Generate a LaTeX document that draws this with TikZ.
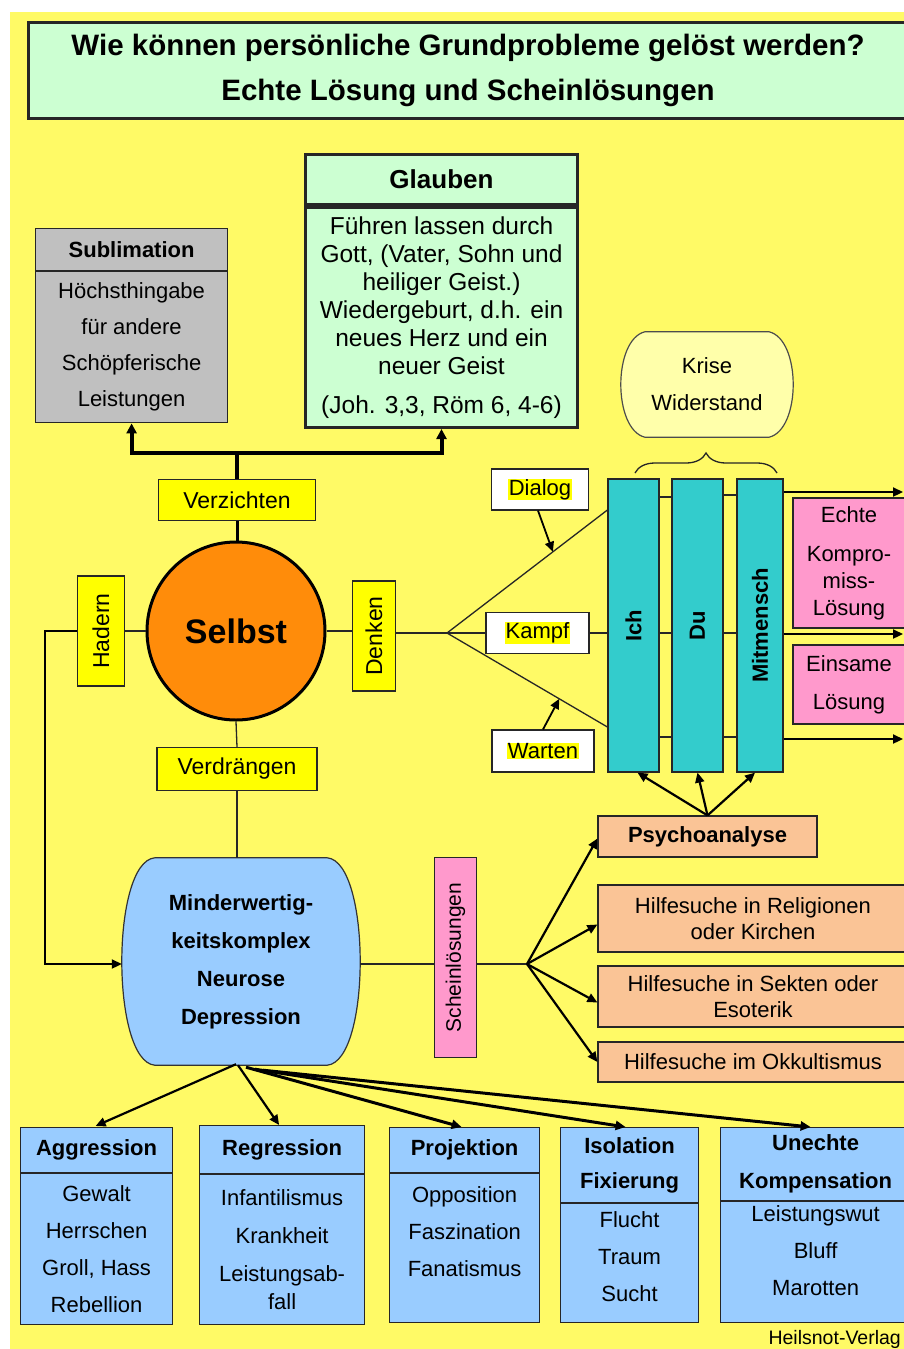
\documentclass[tikz,border=0pt]{standalone}
\usepackage{fontspec}
\setmainfont{Liberation Sans}
\usetikzlibrary{arrows.meta,decorations.pathreplacing,calc,backgrounds}
\definecolor{bgyellow}{RGB}{255,250,102}
\definecolor{titlegreen}{RGB}{204,255,210}
\definecolor{subgray}{RGB}{192,192,192}
\definecolor{selbstorange}{RGB}{255,140,10}
\definecolor{labelyellow}{RGB}{255,255,0}
\definecolor{barteal}{RGB}{51,204,204}
\definecolor{pinkbox}{RGB}{255,153,204}
\definecolor{peach}{RGB}{250,196,150}
\definecolor{lightblue}{RGB}{153,204,255}
\definecolor{krisefill}{RGB}{255,255,170}
\newcommand{\myfs}[2]{\fontsize{#1}{#2}\selectfont}
\newcommand{\hlt}[1]{{\setlength{\fboxsep}{0.5pt}\colorbox{labelyellow}{#1}}}
\begin{document}
\begin{tikzpicture}[x=1pt,y=-1pt,
  box/.style={draw=black!85, line width=1.2pt, inner sep=0pt, align=center, text=black},
  ylbl/.style={box, fill=labelyellow, font=\myfs{23}{27}},
  wlbl/.style={box, fill=white, font=\myfs{22}{26}},
  barn/.style={box, fill=barteal, font=\bfseries\myfs{22}{26}},
  pinkn/.style={box, fill=pinkbox, font=\myfs{22}{27}},
  peachn/.style={box, fill=peach, font=\myfs{22}{26}},
  blueh/.style={box, fill=lightblue, font=\bfseries\myfs{22}{35}},
  blueb/.style={box, fill=lightblue, font=\myfs{22}{37}},
  conn/.style={draw=black!85, line width=1.3pt},
  arrw/.style={draw=black, line width=2.2pt, -{Triangle[length=10pt,width=9pt]}}
]
\useasboundingbox (0,0) rectangle (904,1349);

% title
\node[box, fill=titlegreen, line width=3pt, minimum width=880pt, minimum height=96pt,
      font=\bfseries\myfs{29.5}{45}] (title) at (468,70)
  {Wie können persönliche Grundprobleme gelöst werden?\\Echte Lösung und Scheinlösungen};

% Glauben
\node[box, fill=titlegreen, line width=3pt, minimum width=272pt, minimum height=50pt,
      font=\bfseries\myfs{26}{30}, anchor=north west] (glh) at (304,153) {Glauben};
\node[box, fill=titlegreen, line width=3pt, minimum width=272pt, minimum height=220pt,
      font=\myfs{24.5}{28}, anchor=north] (glb) at (glh.south)
  {Führen lassen durch\\Gott, (Vater, Sohn und\\heiliger Geist.)\\Wiedergeburt, d.h. ein\\neues Herz und ein\\neuer Geist\\[11pt](Joh. 3,3, Röm 6, 4-6)};

% Sublimation
\node[box, fill=subgray, minimum width=192pt, minimum height=42pt,
      font=\bfseries\myfs{22}{26}, anchor=north west] (subh) at (35,228) {Sublimation};
\node[box, fill=subgray, minimum width=192pt, minimum height=151pt,
      font=\myfs{22}{36}, anchor=north] (subb) at (subh.south)
  {Höchsthingabe\\für andere\\Schöpferische\\Leistungen};

% Selbst and labels
\node[ylbl, minimum width=157pt, minimum height=41pt] (verz) at (237,500) {Verzichten};
\node[circle, draw=black, line width=3pt, fill=selbstorange, minimum size=178pt,
      font=\bfseries\myfs{34}{40}] (selbst) at (236,631) {Selbst};
\node[ylbl, minimum width=47pt, minimum height=110pt] (hadern) at (101,631) {\rotatebox{90}{Hadern}};
\node[ylbl, minimum width=43pt, minimum height=110pt] (denken) at (374,636) {\rotatebox{90}{Denken}};
\node[ylbl, minimum width=160pt, minimum height=43pt] (verd) at (237,769) {Verdrängen};

% tree to Sublimation / Glauben
\coordinate (tj) at (238,453);
\draw[line width=4pt] (verz.north) -- (verz.north |- tj);
\draw[line width=4pt, {Triangle[length=10pt,width=10pt]}-{Triangle[length=10pt,width=10pt]}]
  (subb.south) |- (verz.north |- tj) -| (glb.south);
\draw[line width=3pt] (verz.south) -- (verz.south |- selbst.north);
\draw[conn] (selbst.west) -- (hadern.east);
\draw[conn] (selbst.east) -- (selbst.east -| denken.west);

% Krise
\node[minimum width=172pt, minimum height=105pt, align=center, font=\myfs{22}{37}] (krise) at (707,384.5) {Krise\\Widerstand};
\begin{scope}[on background layer]
\fill[white] (0,0) rectangle (904,1349);
\fill[bgyellow] (10,12) rectangle (904,1349);
\draw[fill=krisefill, draw=black!70, line width=1.2pt]
  ($(krise.north west)+(24,0)$) -- ($(krise.north east)+(-24,0)$)
  .. controls ($(krise.north east)+(8,8)$) and ($(krise.south east)+(8,-8)$) .. ($(krise.south east)+(-24,0)$)
  -- ($(krise.south west)+(24,0)$)
  .. controls ($(krise.south west)+(-8,-8)$) and ($(krise.north west)+(-8,8)$) .. cycle;
\end{scope}
\draw[conn, decorate, decoration={brace, amplitude=20pt}] (635,473) -- (777,473);

% bars
\node[barn, minimum width=51pt, minimum height=293pt] (ich) at (633.5,625.5) {\rotatebox{90}{Ich}};
\node[barn, minimum width=51pt, minimum height=293pt] (du) at (697.5,625.5) {\rotatebox{90}{Du}};
\node[barn, minimum width=46pt, minimum height=293pt] (mit) at (760,625.5) {\rotatebox{90}{Mitmensch}};

% fan
\coordinate (apex) at (447,633);
\coordinate (upf) at (ich.west |- 0,510);
\coordinate (lowf) at (ich.west |- 0,727);
\node[wlbl, minimum width=97pt, minimum height=41pt] (dialog) at (540,489.5) {\hlt{Dialog}};
\node[wlbl, minimum width=103pt, minimum height=41pt] (kampf) at (537.5,633) {\hlt{Kampf}};
\node[wlbl, minimum width=102pt, minimum height=42pt] (warten) at (543,751) {\hlt{Warten}};
\draw[conn] (denken.east |- apex) -- (apex);
\draw[conn] (apex) -- (upf);
\draw[conn] (apex) -- (lowf);
\draw[conn] (apex) -- (kampf.west);
\draw[conn] (kampf.east) -- (ich.west |- apex);
\draw[arrw, line width=1.8pt] ($(dialog.south)+(-2,0)$) -- ($(apex)!0.66!(upf)$);
\draw[arrw, line width=1.8pt] (warten.north) -- ($(apex)!0.70!(lowf)$);

% between bars
\draw[conn] (ich.east |- 0,497) -- (du.west |- 0,497);
\draw[conn] (du.east |- 0,495) -- (mit.west |- 0,495);
\draw[conn] (ich.east |- apex) -- (du.west |- apex);
\draw[conn] (du.east |- apex) -- (mit.west |- apex);
\draw[conn] (ich.east |- 0,737) -- (du.west |- 0,737);
\draw[conn] (du.east |- 0,737) -- (mit.west |- 0,737);

% right outcomes
\node[pinkn, minimum width=112pt, minimum height=130pt] (echte) at (849,563) {Echte\\[12pt]Kompro-\\miss-\\Lösung};
\node[pinkn, minimum width=112pt, minimum height=79pt, font=\myfs{22}{38}] (einsam) at (849,684.5) {Einsame\\Lösung};
\coordinate (r1) at (903,492);
\coordinate (r2) at (903,634);
\coordinate (r3) at (903,739);
\draw[arrw] (mit.east |- r1) -- (r1);
\draw[arrw] (mit.east |- r2) -- (r2);
\draw[arrw] (mit.east |- r3) -- (r3);

% Psychoanalyse etc.
\node[peachn, minimum width=219pt, minimum height=41pt, font=\bfseries\myfs{22}{26}] (psy) at (707.5,836.5) {Psychoanalyse};
\node[peachn, minimum width=310pt, minimum height=67pt] (rel) at (753,918.5) {Hilfesuche in Religionen\\oder Kirchen};
\node[peachn, minimum width=310pt, minimum height=61pt] (sek) at (753,996.5) {Hilfesuche in Sekten oder\\Esoterik};
\node[peachn, minimum width=310pt, minimum height=40pt] (okk) at (753,1062) {Hilfesuche im Okkultismus};
\draw[arrw] (psy.north) -- ($(ich.south)+(4,0)$);
\draw[arrw] (psy.north) -- (du.south);
\draw[arrw] (psy.north) -- ($(mit.south)+(-5,0)$);

% Minderwertigkeitskomplex
\node[minimum width=238pt, minimum height=207pt, align=center, font=\bfseries\myfs{22}{38}] (mind) at (241,961.5)
  {Minderwertig-\\keitskomplex\\Neurose\\Depression};
\begin{scope}[on background layer]
\draw[fill=lightblue, draw=black!80, line width=1.2pt]
  ($(mind.north west)+(33,0)$) -- ($(mind.north east)+(-33,0)$)
  .. controls ($(mind.north east)+(11,4)$) and ($(mind.south east)+(11,-4)$) .. ($(mind.south east)+(-33,0)$)
  -- ($(mind.south west)+(33,0)$)
  .. controls ($(mind.south west)+(-11,-4)$) and ($(mind.north west)+(-11,4)$) .. cycle;
\end{scope}
\draw[conn] (selbst.south) -- (verd.north);
\draw[conn] (verd.south) -- (verd.south |- mind.north);
\coordinate (loopc) at (45,964);
\draw[arrw, line width=2pt] (hadern.west) -| (loopc) -- (mind.west |- loopc);

% Scheinloesungen
\coordinate (sfan) at (527,964);
\draw[conn] (mind.east |- sfan) -- (sfan);
\node[box, fill=pinkbox, minimum width=42pt, minimum height=200pt, font=\myfs{21}{25}] (schein) at (455.5,957.5) {\rotatebox{90}{Scheinlösungen}};
\draw[arrw] (sfan) -- ($(psy.west)+(0,2)$);
\draw[arrw] (sfan) -- ($(rel.west)+(0,6)$);
\draw[arrw] (sfan) -- ($(sek.west)+(0,6)$);
\draw[arrw] (sfan) -- (okk.west);

% bottom boxes
\node[blueh, minimum width=152pt, minimum height=45pt, anchor=north west] (aggh) at (20,1127) {Aggression};
\node[blueb, minimum width=152pt, minimum height=151pt, anchor=north] (aggb) at (aggh.south) {Gewalt\\Herrschen\\Groll, Hass\\Rebellion};
\node[blueh, minimum width=165pt, minimum height=48pt, anchor=north west] (regh) at (199,1125) {Regression};
\node[blueb, minimum width=165pt, minimum height=150pt, anchor=north, font=\myfs{22}{28}] (regb) at (regh.south) {Infantilismus\\[10pt]Krankheit\\[10pt]Leistungsab-\\fall};
\node[blueh, minimum width=150pt, minimum height=45pt, anchor=north west] (projh) at (389,1127) {Projektion};
\node[blueb, minimum width=150pt, minimum height=149pt, anchor=north] (projb) at (projh.south) {Opposition\\Faszination\\Fanatismus\\[-3pt]\phantom{X}};
\node[blueh, minimum width=138pt, minimum height=75pt, anchor=north west] (isoh) at (560,1127) {Isolation\\Fixierung};
\node[blueb, minimum width=138pt, minimum height=119pt, anchor=north] (isob) at (isoh.south) {Flucht\\Traum\\Sucht\\[-24pt]\phantom{X}};
\node[blueh, minimum width=190pt, minimum height=73pt, anchor=north west, font=\bfseries\myfs{22}{38}] (unh) at (720,1127) {Unechte\\Kompensation};
\node[blueb, minimum width=190pt, minimum height=121pt, anchor=north] (unb) at (unh.south) {Leistungswut\\Bluff\\Marotten\\[-13pt]\phantom{X}};

\draw[arrw] ($(mind.south)+(-5,-1)$) -- ($(aggh.north)+(-1,-1)$);
\draw[arrw] ($(mind.south)+(-3,0)$) -- ($(regh.north)+(-3,0)$);
\draw[arrw, line width=3pt] ($(mind.south)+(5,2)$) -- ($(projh.north)+(-3,0)$);
\draw[arrw, line width=3pt] ($(mind.south)+(14,4)$) -- ($(isoh.north)+(-4,0)$);
\draw[arrw, line width=3pt] ($(mind.south)+(22,5)$) -- ($(unh.north)+(-5,0)$);

% footer
\node[anchor=base east, inner sep=0pt, font=\myfs{19.5}{22}] (verlag) at (901,1344) {Heilsnot-Verlag};
\end{tikzpicture}
\end{document}
